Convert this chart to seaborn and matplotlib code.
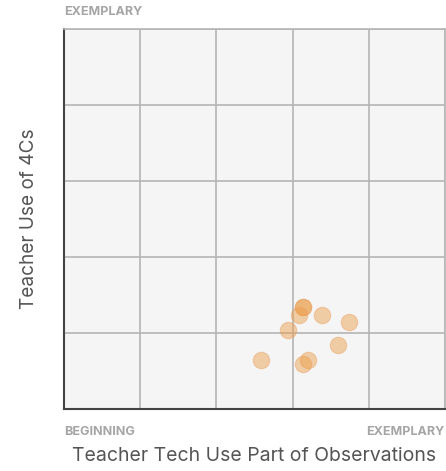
import numpy as np
import pandas as pd
import matplotlib
matplotlib.use('Agg')
import matplotlib.pyplot as plt
import seaborn as sns

tech_use = [3.14, 3.14, 3.09, 3.39, 3.74, 2.94, 3.59, 2.59, 3.20, 3.14]
use_4cs = [1.34, 1.34, 1.24, 1.24, 1.14, 1.04, 0.84, 0.64, 0.64, 0.59]

axis_low = 'BEGINNING'
axis_high = 'EXEMPLARY'

df = pd.DataFrame({'tech': tech_use, 'fourcs': use_4cs})

sns.set_style('white')
plt.rcParams['font.family'] = ['Inter', 'DejaVu Sans']

fig = plt.figure(figsize=(4.46, 4.71), dpi=100)
ax = fig.add_axes([0.1435, 0.1316, 0.8543, 0.8068])
ax.set_facecolor('#f5f5f5')

sns.scatterplot(data=df, x='tech', y='fourcs', ax=ax, s=140,
                color='#ec9a44', alpha=0.45, edgecolor='#e8a060', linewidth=0.8)

ax.set_xlim(0, 5)
ax.set_ylim(0, 5)
ax.set_xticks(range(6))
ax.set_yticks(range(6))
ax.grid(True, color='#b5b5b5', linewidth=1.2)
ax.tick_params(length=0, labelbottom=False, labelleft=False)
ax.set_axisbelow(True)

for side in ['top', 'right']:
    ax.spines[side].set_color('#b5b5b5')
    ax.spines[side].set_linewidth(1.2)
for side in ['left', 'bottom']:
    ax.spines[side].set_color('#444444')
    ax.spines[side].set_linewidth(1.5)

ax.set_xlabel('Teacher Tech Use Part of Observations', fontsize=14,
              color='#555555', labelpad=27)
ax.set_ylabel('Teacher Use of 4Cs', fontsize=13.7, color='#555555', labelpad=19)

fig.text(0.1435, 0.9745, axis_high, fontsize=9, fontweight='bold',
         color='#a5a5a5', ha='left', va='center')
fig.text(0.1435, 0.083, axis_low, fontsize=9, fontweight='bold',
         color='#a5a5a5', ha='left', va='center')
fig.text(0.997, 0.083, axis_high, fontsize=9, fontweight='bold',
         color='#a5a5a5', ha='right', va='center')

fig.savefig('out.png', dpi=100)
